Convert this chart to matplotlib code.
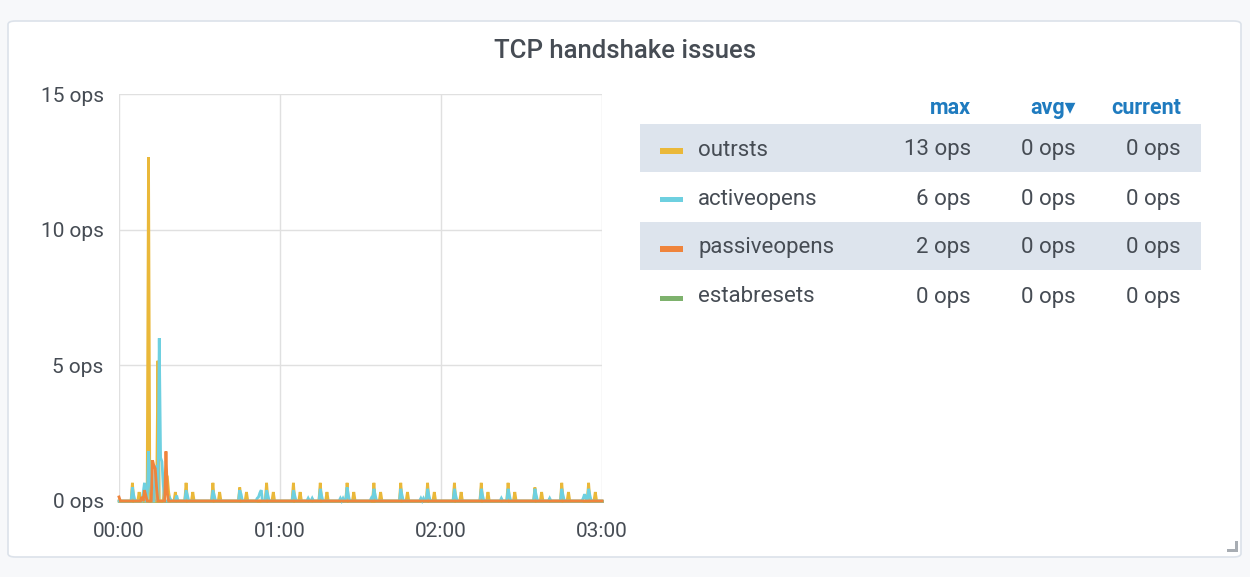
import numpy as np
import matplotlib.pyplot as plt
from matplotlib.patches import FancyBboxPatch, Rectangle

plt.rcParams['font.family'] = ['Roboto', 'DejaVu Sans']

W, H = 1250, 577

# time axis in minutes, 30 s resolution
t = np.arange(0, 180.5, 0.5)

# (minute, ops) samples, zero elsewhere
outrsts_events = [
    (5.0, 0.67), (7.5, 0.33), (10.5, 0.33), (11.0, 12.67), (14.5, 5.17),
    (17.0, 0.67), (17.5, 1.0), (18.0, 0.9), (18.5, 0.33), (21.0, 0.33),
    (25.0, 0.67), (27.5, 0.33), (35.0, 0.67), (37.5, 0.33), (45.0, 0.5),
    (47.5, 0.33), (55.0, 0.67), (57.5, 0.33), (65.0, 0.67), (67.5, 0.33),
    (75.0, 0.67), (77.5, 0.33), (85.0, 0.67), (87.5, 0.33), (95.0, 0.67),
    (97.5, 0.33), (105.0, 0.67), (107.5, 0.33), (115.0, 0.67), (117.5, 0.33),
    (125.0, 0.67), (127.5, 0.33), (135.0, 0.67), (137.5, 0.33), (145.0, 0.67),
    (147.5, 0.33), (155.0, 0.5), (157.5, 0.33), (165.0, 0.67), (167.5, 0.33),
    (175.0, 0.67), (177.5, 0.33),
]
activeopens_events = [
    (5.0, 0.5), (5.5, 0.2), (9.0, 0.3), (9.5, 0.67), (11.0, 1.83), (11.5, 0.75),
    (12.0, 0.3), (13.5, 1.3), (14.0, 1.2), (15.0, 6.0), (15.5, 1.6), (16.0, 1.45),
    (16.5, 0.6), (19.0, 0.1), (21.5, 0.2), (25.0, 0.4), (25.5, 0.2), (35.0, 0.4),
    (35.5, 0.2), (45.0, 0.4), (45.5, 0.25), (51.5, 0.1), (52.0, 0.15), (52.5, 0.3),
    (53.0, 0.4), (55.0, 0.4), (55.5, 0.2), (65.0, 0.4), (65.5, 0.2), (70.5, 0.1),
    (72.0, 0.1), (75.0, 0.45), (75.5, 0.2), (82.5, 0.1), (83.5, 0.1), (85.0, 0.5),
    (85.5, 0.2), (94.0, 0.1), (95.0, 0.45), (95.5, 0.2), (105.0, 0.45), (105.5, 0.2),
    (112.5, 0.1), (113.5, 0.1), (115.0, 0.45), (115.5, 0.2), (125.0, 0.45),
    (125.5, 0.2), (135.0, 0.45), (135.5, 0.2), (142.5, 0.1), (145.0, 0.45),
    (145.5, 0.2), (155.0, 0.45), (155.5, 0.2), (160.5, 0.1), (165.0, 0.45),
    (165.5, 0.2), (173.0, 0.1), (173.5, 0.25), (174.0, 0.1), (175.0, 0.45),
    (175.5, 0.2),
]
passiveopens_events = [
    (0.0, 0.15), (8.5, 0.15), (9.5, 0.4), (10.0, 0.2), (12.5, 1.5), (13.0, 1.3),
    (13.5, 1.2), (14.0, 0.5), (17.5, 1.83), (18.0, 0.3),
]
estabresets_events = []

names = ['outrsts', 'activeopens', 'passiveopens', 'estabresets']
colors = ['#EAB839', '#6ED0E0', '#EF843C', '#7EB26D']
max_vals = ['13 ops', '6 ops', '2 ops', '0 ops']
avg_vals = ['0 ops', '0 ops', '0 ops', '0 ops']
cur_vals = ['0 ops', '0 ops', '0 ops', '0 ops']
x_ticks = [0, 60, 120, 180]
x_labels = ['00:00', '01:00', '02:00', '03:00']
y_ticks = [0, 5, 10, 15]


def build(events):
    y = np.zeros_like(t)
    for m, v in events:
        y[int(round(m * 2))] = v
    return y


series = [build(e) for e in
          (outrsts_events, activeopens_events, passiveopens_events, estabresets_events)]


def fx(x):
    return x / W


def fy(y):
    return 1 - y / H


fig = plt.figure(figsize=(W / 100, H / 100), dpi=100)
fig.patch.set_facecolor('#f7f8fa')

# panel
panel = FancyBboxPatch((fx(8), fy(557)), fx(1233), (557 - 21) / H,
                       boxstyle='round,pad=0,rounding_size=0.006',
                       transform=fig.transFigure, facecolor='white',
                       edgecolor='#dce2ea', linewidth=1.2, zorder=-2)
fig.patches.append(panel)

fig.text(fx(625), fy(51), 'TCP handshake issues', ha='center', va='center',
         fontsize=18.5, color='#464c54', fontweight='medium')

ax = fig.add_axes([fx(119), fy(501), fx(483), 407 / H])
ax.set_zorder(5)
ax.set_facecolor('none')
zorders = [2, 3, 4, 1]
for y, c, z in zip(series, colors, zorders):
    ax.plot(t, y, color=c, lw=2, zorder=z, clip_on=False, solid_joinstyle='miter')
    ax.fill_between(t, 0, y, color=c, alpha=0.15, lw=0, zorder=z)

ax.set_xlim(0, 180)
ax.set_ylim(0, 15)
ax.set_xticks(x_ticks)
ax.set_xticklabels(x_labels)
ax.set_yticks(y_ticks)
ax.set_yticklabels([f'{v} ops' for v in y_ticks])
ax.tick_params(length=0, labelsize=15, labelcolor='#464c54')
ax.tick_params(axis='y', pad=11)
ax.tick_params(axis='x', pad=15)
ax.grid(True, color='#e0e0e0', lw=1)
ax.set_axisbelow(True)
for s in ax.spines.values():
    s.set_visible(False)

# legend table
hdr_color = '#1f7bbf'
for x, s in ((971, 'max'), (1076, 'avg\u25be'), (1181, 'current')):
    fig.text(fx(x), fy(108), s, ha='right', va='center', fontsize=15.5,
             color=hdr_color, fontweight='bold')

row_y = [148, 197, 246, 295]
for i, (n, c, mx, av, cu) in enumerate(zip(names, colors, max_vals, avg_vals, cur_vals)):
    yc = row_y[i]
    if i % 2 == 0:
        fig.patches.append(Rectangle((fx(640), fy(yc + 24)), fx(561), 48 / H,
                                     transform=fig.transFigure, facecolor='#dde4ed',
                                     edgecolor='none', zorder=1))
    fig.patches.append(Rectangle((fx(660), fy(yc + 5.5)), fx(23), 5 / H,
                                 transform=fig.transFigure, facecolor=c,
                                 edgecolor='none', zorder=2))
    for x, s, ha in ((698, n, 'left'), (971, mx, 'right'), (1076, av, 'right'),
                     (1181, cu, 'right')):
        fig.text(fx(x), fy(yc + 2), s, ha=ha, va='center', fontsize=16, color='#464c54')

# resize handle
fig.patches.append(Rectangle((fx(1227), fy(552)), fx(11), 3 / H, transform=fig.transFigure,
                             facecolor='#a8adb3', edgecolor='none'))
fig.patches.append(Rectangle((fx(1235), fy(552)), fx(3), 11 / H, transform=fig.transFigure,
                             facecolor='#a8adb3', edgecolor='none'))

fig.savefig('out.png', dpi=100, facecolor=fig.get_facecolor())
